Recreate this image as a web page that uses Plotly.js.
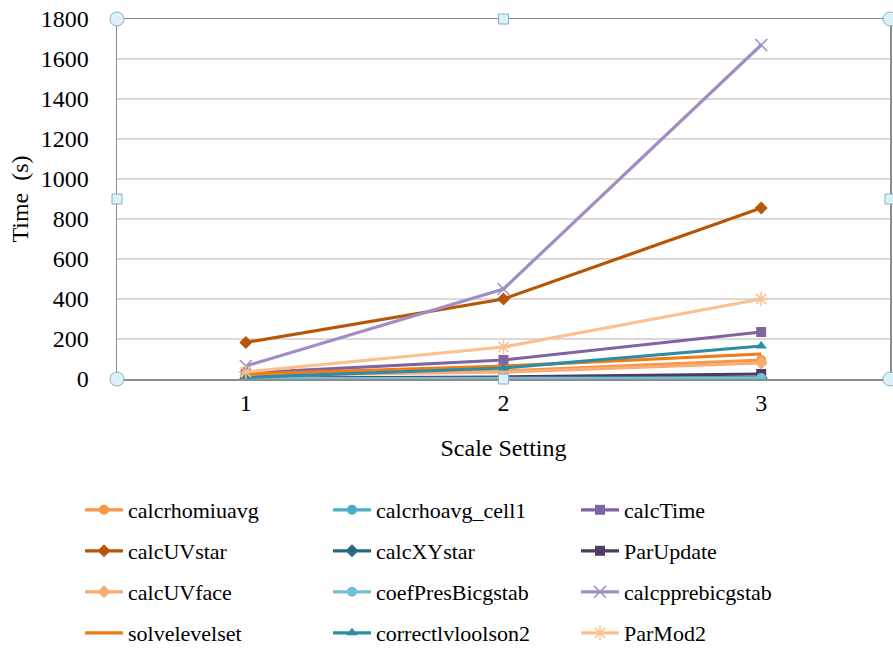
<!DOCTYPE html>
<html>
<head>
<meta charset="utf-8">
<script src="https://cdn.plot.ly/plotly-3.0.1.min.js"></script>
<style>html,body{margin:0;padding:0;background:#fff;}#chart{width:893px;height:651px;}</style>
</head>
<body>
<div id="chart"></div>
<script>
const categories = ['1', '2', '3'];
const seriesNames = [
  'calcrhomiuavg', 'calcrhoavg_cell1', 'calcTime',
  'calcUVstar', 'calcXYstar', 'ParUpdate',
  'calcUVface', 'coefPresBicgstab', 'calcpprebicgstab',
  'solvelevelset', 'correctlvloolson2', 'ParMod2'
];
const calcrhomiuavg = [20, 40, 95];
const calcrhoavg_cell1 = [2, 4, 8];
const calcTime = [30, 95, 235];
const calcUVstar = [183, 400, 855];
const calcXYstar = [2, 3, 5];
const ParUpdate = [4, 10, 25];
const calcUVface = [18, 35, 80];
const coefPresBicgstab = [2, 3, 5];
const calcpprebicgstab = [65, 450, 1670];
const solvelevelset = [25, 65, 125];
const correctlvloolson2 = [8, 55, 165];
const ParMod2 = [35, 160, 400];
const yTickVals = [0, 200, 400, 600, 800, 1000, 1200, 1400, 1600, 1800];

const seriesValues = [calcrhomiuavg, calcrhoavg_cell1, calcTime, calcUVstar, calcXYstar, ParUpdate,
  calcUVface, coefPresBicgstab, calcpprebicgstab, solvelevelset, correctlvloolson2, ParMod2];
const colors = ['#F79646', '#4BACC6', '#8064A2', '#B65708', '#276A7C', '#4D3B62',
  '#F9AC74', '#72C0D6', '#A18DC2', '#F57A10', '#2E8CA6', '#FAC090'];
const symbols = ['circle', 'circle', 'square', 'diamond', 'diamond', 'square',
  'diamond', 'circle', 'x-thin-open', 'none', 'triangle-up', 'asterisk-open'];
const legendIds = ['legend', 'legend2', 'legend3', 'legend4'];

const traces = seriesNames.map((name, i) => ({
  type: 'scatter',
  mode: symbols[i] === 'none' ? 'lines' : 'lines+markers',
  name: name,
  x: categories,
  y: seriesValues[i],
  line: {color: colors[i], width: 3.2},
  marker: {symbol: symbols[i] === 'none' ? 'circle' : symbols[i], size: symbols[i].indexOf('open') >= 0 ? 12 : 10,
           color: colors[i], line: {color: colors[i], width: symbols[i].indexOf('open') >= 0 ? 1.5 : 0}},
  legend: legendIds[Math.floor(i / 3)]
}));

const serif = 'Liberation Serif, Times New Roman, serif';
const legFont = {family: serif, size: 22, color: '#000'};
const legRowsY = [1 - 510 / 651, 1 - 551 / 651, 1 - 592 / 651, 1 - 633 / 651];
function mkLegend(y) {
  return {orientation: 'h', xref: 'container', yref: 'container', x: 80 / 893, xanchor: 'left',
    y: y, yanchor: 'middle',
    entrywidth: 195, entrywidthmode: 'pixels', itemwidth: 38, font: legFont,
    bgcolor: 'rgba(0,0,0,0)', borderwidth: 0, traceorder: 'normal'};
}

// selection handles of the chart frame
const handleFill = '#DDF1F8', handleLine = '#86AFC6';
const shapes = [];
[[0, 0], [0, 1], [1, 0], [1, 1]].forEach(([px, py]) => {
  shapes.push({type: 'circle', xref: 'paper', yref: 'paper', xsizemode: 'pixel', ysizemode: 'pixel',
    xanchor: px, yanchor: py, x0: -7, x1: 7, y0: -7, y1: 7,
    fillcolor: handleFill, line: {color: handleLine, width: 1}, layer: 'above'});
});
[[0.5, 0], [0.5, 1], [0, 0.5], [1, 0.5]].forEach(([px, py]) => {
  shapes.push({type: 'rect', xref: 'paper', yref: 'paper', xsizemode: 'pixel', ysizemode: 'pixel',
    xanchor: px, yanchor: py, x0: -5, x1: 5, y0: -5, y1: 5,
    fillcolor: handleFill, line: {color: handleLine, width: 1}, layer: 'above'});
});

const tickFont = {family: serif, size: 24, color: '#000'};
const titleFont = {family: serif, size: 24, color: '#000'};
const layout = {
  width: 893, height: 651,
  margin: {l: 117, r: 3, t: 19, b: 272},
  paper_bgcolor: '#fff', plot_bgcolor: '#fff',
  showlegend: true,
  font: tickFont,
  xaxis: {
    type: 'category', range: [-0.5, 2.5],
    showgrid: false, zeroline: false,
    showline: true, mirror: true, linecolor: '#8C8C8C', linewidth: 1.5,
    ticks: '', ticklabelstandoff: 2, tickfont: tickFont,
    title: {text: 'Scale Setting', font: titleFont, standoff: 24},
    automargin: false
  },
  yaxis: {
    range: [0, 1800], tickvals: yTickVals, ticktext: yTickVals.map(String),
    showgrid: true, gridcolor: '#D9D9D9', gridwidth: 1.5, zeroline: false,
    showline: true, mirror: true, linecolor: '#8C8C8C', linewidth: 1.5,
    ticks: '', ticklabelstandoff: 22, tickfont: tickFont,
    title: {text: 'Time&nbsp;&nbsp;(s)', font: titleFont, standoff: 5},
    automargin: false
  },
  legend: mkLegend(legRowsY[0]),
  legend2: mkLegend(legRowsY[1]),
  legend3: mkLegend(legRowsY[2]),
  legend4: mkLegend(legRowsY[3]),
  shapes: shapes
};

Plotly.newPlot('chart', traces, layout, {displayModeBar: false, staticPlot: true});
</script>
</body>
</html>
